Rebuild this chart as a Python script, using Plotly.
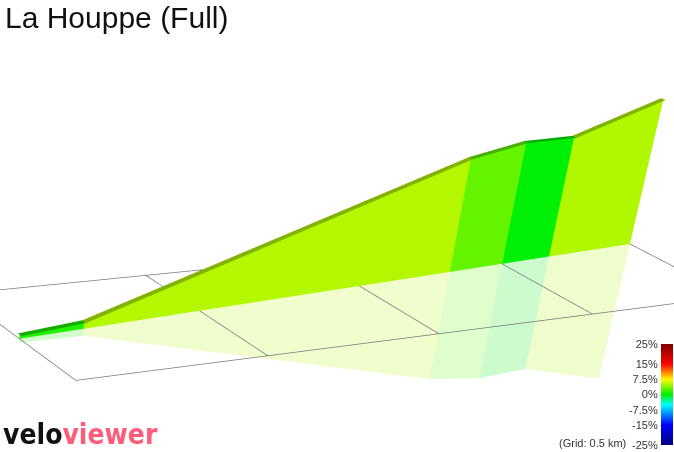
"""3-D gradient profile of La Houppe, veloviewer style."""

import numpy as np
import plotly.graph_objects as go

# route profile
dist_km = np.array([0.0, 0.171, 1.311, 1.501, 1.678, 2.0])
north_km = np.array([0.233, 0.2465, 0.3364, 0.3514, 0.3654, 0.3908])
elev_m = np.array([96.0, 97.7, 158.6, 164.3, 164.3, 181.2])
base_m = 94.0

# ground grid (0.5 km)
grid_east_km = [0.0, 0.5, 1.0, 1.5, 2.0]
grid_north_km = [0.0, 0.5]

# gradient colour scale
grad_ticks = [-25, -15, -7.5, 0, 7.5, 15, 25]
grad_labels = ["-25%", "-15%", "-7.5%", "0%", "7.5%", "15%", "25%"]
grad_stops = [(-25, (0, 0, 128)), (-15, (0, 0, 255)), (-5, (0, 255, 255)), (0, (0, 240, 0)),
              (7.5, (255, 250, 0)), (10, (255, 165, 0)), (15, (255, 0, 0)), (25, (128, 0, 0))]

# page / camera (perspective solved against the original render)
W, H = 674, 1826
EXAG = 0.00443  # vertical km per metre of climb
XR, YR = [-0.02, 2.02], [-0.02, 0.52]
EYE = dict(x=-1.69124, y=-1.94019, z=0.88237)
CENTER = dict(x=-1.41516, y=-1.64529, z=0.60469)
UP = dict(x=0.24596, y=0.5324, z=0.80997)


def colorscale(mix=1.0, dark=1.0):
    out = []
    for val, c in grad_stops:
        c = [(255 * (1 - mix) + ch * mix) * dark for ch in c]
        out.append([(val + 25) / 50, "rgb(%d,%d,%d)" % tuple(c)])
    return out


def px_x(px):
    return px / W


def px_y(px):
    return 1 - px / H


rel = elev_m - base_m
grad_pct = np.diff(elev_m) / np.diff(dist_km) / 10
n = len(dist_km)

# two triangles per segment: bottom row 0..n-1, top row n..2n-1
ii, jj, kk = [], [], []
for i in range(n - 1):
    ii += [i, i]
    jj += [i + 1, n + i + 1]
    kk += [n + i + 1, n + i]

flat = dict(ambient=1, diffuse=0, specular=0, roughness=1, fresnel=0)
mesh = dict(i=ii, j=jj, k=kk, intensity=np.repeat(grad_pct, 2), intensitymode="cell",
            cmin=-25, cmax=25, lighting=flat, flatshading=True, hoverinfo="skip")
bar = dict(xanchor="left", xpad=0, y=px_y(394.5), yanchor="middle", ypad=0, len=101, lenmode="pixels",
           outlinewidth=0, ticks="", tickvals=grad_ticks, ticktext=grad_labels)

fig = go.Figure()

# profile wall
fig.add_trace(go.Mesh3d(
    x=np.concatenate([dist_km, dist_km]), y=np.concatenate([north_km, north_km]),
    z=np.concatenate([np.zeros(n), rel]), colorscale=colorscale(), showscale=True,
    colorbar=dict(bar, x=px_x(661), thickness=12, showticklabels=False), **mesh))

# faint mirror image under the ground
fig.add_trace(go.Mesh3d(
    x=np.concatenate([dist_km, dist_km]), y=np.concatenate([north_km, north_km]),
    z=np.concatenate([np.zeros(n), -rel]), colorscale=colorscale(0.2), showscale=False, **mesh))

# darker top edge of the wall
w = 0.008
fig.add_trace(go.Mesh3d(
    x=np.concatenate([dist_km, dist_km]), y=np.concatenate([north_km - w, north_km + w]),
    z=np.concatenate([rel, rel]), colorscale=colorscale(1, 0.72), showscale=False, **mesh))

# grid on the ground
gx, gy, gz = [], [], []
for yy in grid_north_km:
    gx += [grid_east_km[0], grid_east_km[-1], None]; gy += [yy, yy, None]; gz += [0, 0, None]
for xx in grid_east_km:
    gx += [xx, xx, None]; gy += [grid_north_km[0], grid_north_km[-1], None]; gz += [0, 0, None]
fig.add_trace(go.Scatter3d(x=gx, y=gy, z=gz, mode="lines", line=dict(color="#7a7a7a", width=1.5),
                           hoverinfo="skip"))

# invisible point that only carries the colour-bar labels (left of the bar)
fig.add_trace(go.Scatter3d(
    x=[1.0], y=[0.25], z=[0], mode="markers", hoverinfo="skip",
    marker=dict(size=1, opacity=0, color=[0], cmin=-25, cmax=25, showscale=True,
                colorscale=[[0, "rgba(255,255,255,0)"], [1, "rgba(255,255,255,0)"]],
                colorbar=dict(bar, x=px_x(619), thickness=40, ticklabelposition="inside",
                              ticklabeloverflow="allow",
                              tickfont=dict(family="Liberation Sans, Arial", size=11, color="#333")))))

zr = 1.05 * rel.max()
k = 1 / (XR[1] - XR[0])
hidden = dict(visible=False)

fig.update_layout(
    width=W, height=H, margin=dict(l=0, r=0, t=0, b=0), showlegend=False, paper_bgcolor="white",
    scene=dict(
        xaxis=dict(hidden, range=XR), yaxis=dict(hidden, range=YR), zaxis=dict(hidden, range=[-zr, zr]),
        aspectmode="manual", bgcolor="white",
        aspectratio=dict(x=(XR[1] - XR[0]) * k, y=(YR[1] - YR[0]) * k, z=2 * zr * EXAG * k),
        camera=dict(eye=EYE, center=CENTER, up=UP),
        domain=dict(x=[0, 1], y=[0, 1]),
    ),
    annotations=[
        dict(x=px_x(3), y=px_y(-1), xanchor="left", yanchor="top", text="La Houppe (Full)",
             font=dict(family="Liberation Sans, Arial", size=30, color="#111")),
        dict(x=px_x(1), y=px_y(453), xanchor="left", yanchor="bottom",
             text="<b>velo<span style='color:#ff5c7a'>viewer</span></b>",
             font=dict(family="DejaVu Sans Condensed, DejaVu Sans, sans-serif", size=28, color="#111")),
        dict(x=px_x(628), y=px_y(443), xanchor="right", yanchor="middle", text="(Grid: 0.5 km)",
             font=dict(family="Liberation Sans, Arial", size=11, color="#333")),
    ],
)
for a in fig.layout.annotations:
    a.update(xref="paper", yref="paper", showarrow=False)

fig.write_html("out.html", config={"displayModeBar": False},
               post_script="document.body.style.margin='0';")
